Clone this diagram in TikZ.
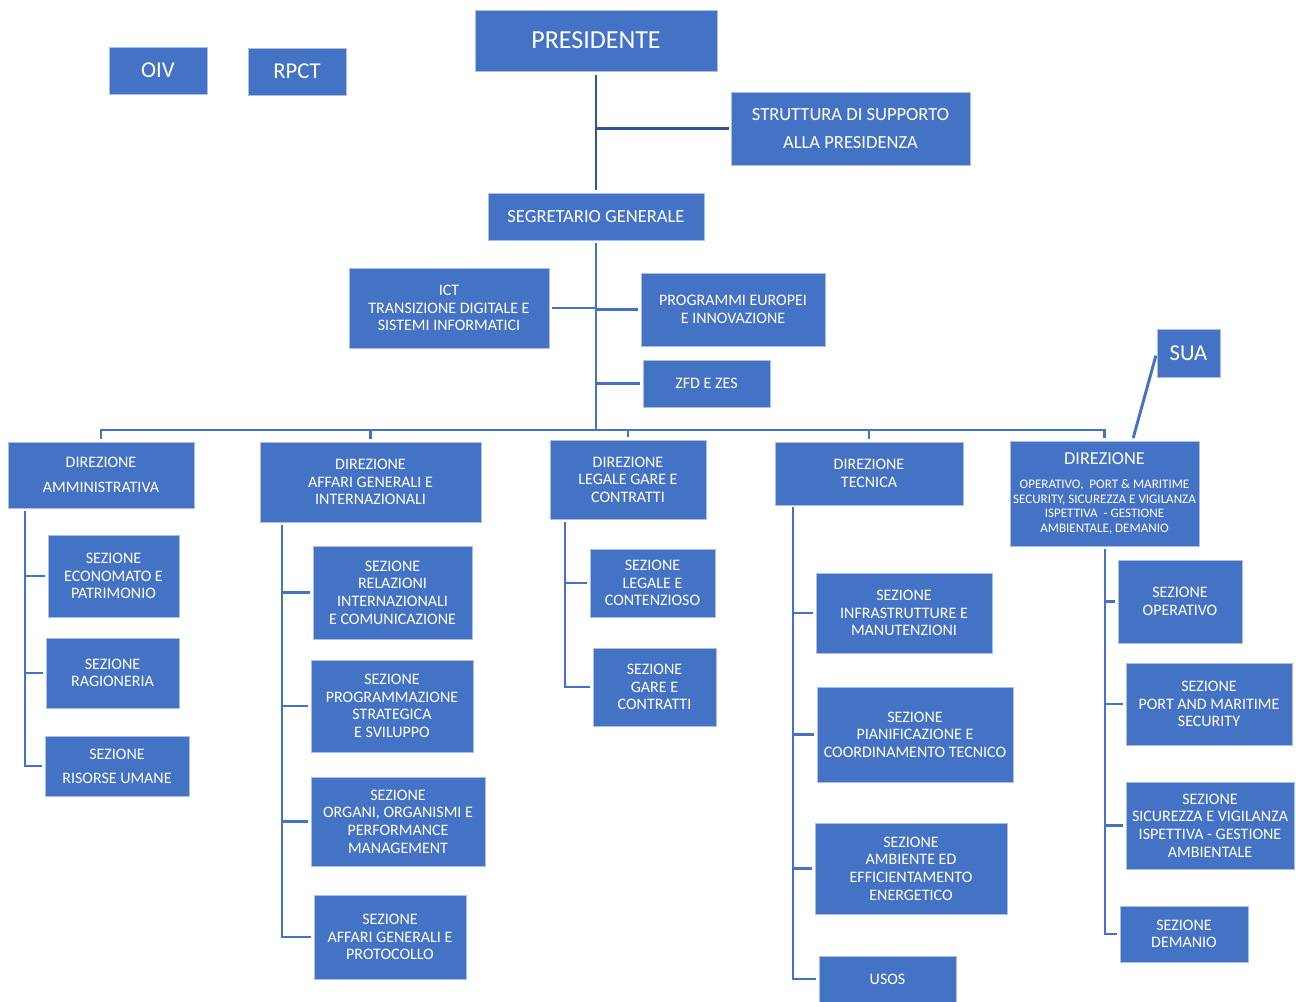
\documentclass[tikz,border=0pt]{standalone}
\usepackage{fontspec}
\setmainfont{Carlito}
\usepackage{xcolor}
\definecolor{boxblue}{HTML}{4472C4}
\definecolor{boxedge}{HTML}{A9BFE6}
\definecolor{linkblue}{HTML}{4472C4}
\definecolor{trunkblue}{HTML}{2F5597}
\newcommand{\opbig}{\fontsize{13.7}{16.5}\selectfont}
\tikzset{
  orgbox/.style={
    rectangle, draw=boxedge, line width=0.6pt, fill=boxblue,
    text=white, align=center, inner sep=1pt,
    font=\fontsize{12}{13.2}\selectfont
  },
  boxsize/.style 2 args={minimum width=#1*0.75pt, minimum height=#2*0.75pt},
  bigtext/.style={font=\fontsize{17}{20}\selectfont},
  midtext/.style={font=\fontsize{13.9}{16.5}\selectfont},
  smalltext/.style={font=\fontsize{9.8}{11}\selectfont},
  link/.style={draw=linkblue, line width=2.2pt, shorten >=2pt},
  trunk/.style={draw=trunkblue, line width=2.2pt}
}

\begin{document}
\begin{tikzpicture}[x=0.75pt,y=-0.75pt]
  \useasboundingbox (0,0) rectangle (1296,1001);

  % Top level
  \node[orgbox, boxsize={242}{61}, font=\fontsize{19.5}{23}\selectfont] (presidente) at (596,40.5) {PRESIDENTE};
  \node[orgbox, boxsize={98}{47}, bigtext] (oiv) at (158,70.5) {OIV};
  \node[orgbox, boxsize={98}{47}, bigtext] (rpct) at (297,71.5) {RPCT};
  \node[orgbox, boxsize={239}{73}, midtext] (struttura) at (850.5,128.5)
    {STRUTTURA DI SUPPORTO\\[4.5pt] ALLA PRESIDENZA};
  \node[orgbox, boxsize={216}{47}, midtext] (segretario) at (596,216.5) {SEGRETARIO GENERALE};

  % Staff of the Segretario
  \node[orgbox, boxsize={200}{80}] (ict) at (449,308)
    {ICT\\ TRANSIZIONE DIGITALE E\\ SISTEMI INFORMATICI};
  \node[orgbox, boxsize={184}{73}] (programmi) at (733,309.5)
    {PROGRAMMI EUROPEI\\ E INNOVAZIONE};
  \node[orgbox, boxsize={127}{47}] (zfd) at (706.5,383.5) {ZFD E ZES};
  \node[orgbox, boxsize={63}{48}, bigtext] (sua) at (1188.5,353) {SUA};

  % Direzioni
  \node[orgbox, boxsize={186}{66}] (diramm) at (101,475)
    {DIREZIONE\\[5.5pt] AMMINISTRATIVA};
  \node[orgbox, boxsize={221}{80}] (diraff) at (370.5,482)
    {DIREZIONE\\ AFFARI GENERALI E\\ INTERNAZIONALI};
  \node[orgbox, boxsize={156}{79}] (dirleg) at (628,479.5)
    {DIREZIONE\\ LEGALE GARE E\\ CONTRATTI};
  \node[orgbox, boxsize={188}{63}] (dirtec) at (869,473.5)
    {DIREZIONE\\ TECNICA};
  \node[orgbox, boxsize={189}{105}, inner sep=0pt, smalltext] (diroper) at (1104.5,493.5)
    {\opbig DIREZIONE\\[7pt]
     OPERATIVO,\ \ PORT \& MARITIME\\
     SECURITY, SICUREZZA E VIGILANZA\\
     ISPETTIVA\ \ - GESTIONE\\
     AMBIENTALE, DEMANIO};

  % Sezioni amministrativa
  \node[orgbox, boxsize={131}{82}] (economato) at (113.5,576)
    {SEZIONE\\ ECONOMATO E\\ PATRIMONIO};
  \node[orgbox, boxsize={133}{70}] (ragioneria) at (112.5,673)
    {SEZIONE\\ RAGIONERIA};
  \node[orgbox, boxsize={144}{60}] (risorse) at (117,766)
    {SEZIONE\\[5pt] RISORSE UMANE};

  % Sezioni affari generali
  \node[orgbox, boxsize={159}{93}] (relazioni) at (392.5,592.5)
    {SEZIONE\\ RELAZIONI\\ INTERNAZIONALI\\ E COMUNICAZIONE};
  \node[orgbox, boxsize={162}{92}] (strategica) at (392,706)
    {SEZIONE\\ PROGRAMMAZIONE\\ STRATEGICA\\ E SVILUPPO};
  \node[orgbox, boxsize={174}{89}] (organi) at (398,821.5)
    {SEZIONE\\ ORGANI, ORGANISMI E\\ PERFORMANCE\\ MANAGEMENT};
  \node[orgbox, boxsize={152}{84}] (protocollo) at (390,937)
    {SEZIONE\\ AFFARI GENERALI E\\ PROTOCOLLO};

  % Sezioni legale
  \node[orgbox, boxsize={125}{68}] (contenzioso) at (652.5,583)
    {SEZIONE\\ LEGALE E\\ CONTENZIOSO};
  \node[orgbox, boxsize={123}{78}] (gare) at (654.5,687)
    {SEZIONE\\ GARE E\\ CONTRATTI};

  % Sezioni tecnica
  \node[orgbox, boxsize={176}{80}] (infra) at (904,613)
    {SEZIONE\\ INFRASTRUTTURE E\\ MANUTENZIONI};
  \node[orgbox, boxsize={196}{95}] (pianificazione) at (915,734.5)
    {SEZIONE\\ PIANIFICAZIONE E\\ COORDINAMENTO TECNICO};
  \node[orgbox, boxsize={192}{91}] (ambiente) at (911,868.5)
    {SEZIONE\\ AMBIENTE ED\\ EFFICIENTAMENTO\\ ENERGETICO};
  \node[orgbox, boxsize={137}{46}] (usos) at (887.5,979) {USOS};

  % Sezioni operativo
  \node[orgbox, boxsize={124}{83}] (operativo) at (1180,601.5)
    {SEZIONE\\ OPERATIVO};
  \node[orgbox, boxsize={166}{82}] (port) at (1209,704)
    {SEZIONE\\ PORT AND MARITIME\\ SECURITY};
  \node[orgbox, boxsize={168}{87}] (sicurezza) at (1210,825.5)
    {SEZIONE\\ SICUREZZA E VIGILANZA\\ ISPETTIVA - GESTIONE\\ AMBIENTALE};
  \node[orgbox, boxsize={128}{56}] (demanio) at (1184,934)
    {SEZIONE\\ DEMANIO};

  % Presidente line
  \draw[trunk, shorten <=3pt, shorten >=2pt] (presidente.south) -- (segretario.north);
  \draw[trunk, shorten >=1pt] (presidente.south |- struttura.west) -- (struttura.west);

  % Segretario line and staff
  \coordinate (bus) at (596,430);
  \draw[link, shorten <=2pt, shorten >=-1pt] (segretario.south) -- (bus);
  \draw[link] (ict.east -| bus) -- (ict.east);
  \draw[link] (programmi.west -| bus) -- (programmi.west);
  \draw[link] (zfd.west -| bus) -- (zfd.west);

  % Bus to the direzioni
  \draw[link] (bus) -| (diramm.north);
  \draw[link] (bus) -| (diraff.north);
  \draw[link] (bus) -| (dirleg.north);
  \draw[link] (bus) -| (dirtec.north);
  \draw[link] (bus) -| (diroper.north);
  \draw[link, shorten <=2pt] ([xshift=21pt]diroper.north) -- (sua.west);

  % Amministrativa
  \coordinate (ammbus) at (25,511);
  \draw[link] (ammbus) |- (economato.west);
  \draw[link] (ammbus) |- (ragioneria.west);
  \draw[link] (ammbus) |- (risorse.west);

  % Affari generali
  \coordinate (affbus) at (282,525);
  \draw[link] (affbus) |- (relazioni.west);
  \draw[link] (affbus) |- (strategica.west);
  \draw[link] (affbus) |- (organi.west);
  \draw[link] (affbus) |- (protocollo.west);

  % Legale
  \coordinate (legbus) at (565,522);
  \draw[link] (legbus) |- (contenzioso.west);
  \draw[link] (legbus) |- (gare.west);

  % Tecnica
  \coordinate (tecbus) at (793,507);
  \draw[link] (tecbus) |- (infra.west);
  \draw[link] (tecbus) |- (pianificazione.west);
  \draw[link] (tecbus) |- (ambiente.west);
  \draw[link] (tecbus) |- (usos.west);

  % Operativo
  \coordinate (operbus) at (1105,549);
  \draw[link] (operbus) |- (operativo.west);
  \draw[link] (operbus) |- (port.west);
  \draw[link] (operbus) |- (sicurezza.west);
  \draw[link] (operbus) |- (demanio.west);

\end{tikzpicture}
\end{document}
